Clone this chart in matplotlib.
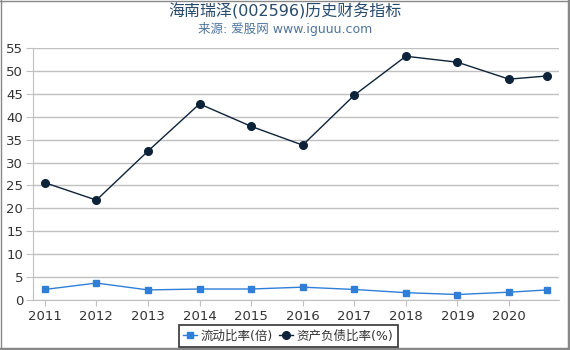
import matplotlib
matplotlib.use("Agg")
import matplotlib.pyplot as plt
from matplotlib.lines import Line2D

plt.rcParams['font.family'] = ['DejaVu Sans', 'Noto Sans CJK SC']

# data
years = [2011, 2012, 2013, 2014, 2015, 2016, 2017, 2018, 2019, 2020, 2020.74]
current_ratio = [2.3, 3.7, 2.2, 2.4, 2.4, 2.8, 2.3, 1.6, 1.2, 1.7, 2.2]
debt_ratio = [25.6, 21.8, 32.5, 42.8, 37.9, 33.8, 44.7, 53.2, 51.9, 48.2, 48.9]
tick_years = [2011, 2012, 2013, 2014, 2015, 2016, 2017, 2018, 2019, 2020]

W, H = 570, 350
fig = plt.figure(figsize=(W / 100, H / 100), dpi=100)
ax = fig.add_axes([33 / W, 50 / H, 526 / W, 252 / H])

ax.plot(years, current_ratio, color="#2f7ed8", lw=1, marker="s", ms=5,
        label="流动比率(倍)", zorder=3)
ax.plot(years, debt_ratio, color="#0d233a", lw=1, marker="o", ms=5.5,
        label="资产负债比率(%)", zorder=3)

ax.set_xlim(2010.77, 2020.97)
ax.set_ylim(0, 55)
ax.set_yticks(range(0, 56, 5))
ax.set_xticks(tick_years)
ax.grid(axis="y", color="#c0c0c0", lw=1)
ax.set_axisbelow(True)
for s in ["top", "right"]:
    ax.spines[s].set_visible(False)
ax.spines["left"].set_color("#c0c0c0")
ax.spines["bottom"].set_color("#c0c0c0")
ax.tick_params(axis="both", colors="#c0c0c0", labelcolor="#333333", labelsize=9.5, length=4)
ax.tick_params(axis="y", length=5, pad=2)

fig.text(0.5, 0.967, "海南瑞泽(002596)历史财务指标", ha="center", va="center",
         fontsize=11.5, color="#274b6d")
fig.text(0.5, 0.918, "来源: 爱股网 www.iguuu.com", ha="center", va="center",
         fontsize=9, color="#4d759e")

leg = fig.legend(loc="center", bbox_to_anchor=(288 / W, 1 - 336 / H), ncol=2,
                 fontsize=9, frameon=True, fancybox=False, handlelength=1.1,
                 handletextpad=0.3, columnspacing=0.5, borderpad=0.35,
                 borderaxespad=0)
leg.get_frame().set_edgecolor("black")
leg.get_frame().set_linewidth(1.2)
for t in leg.get_texts():
    t.set_color("#333333")

# outer frame: thin top/left, heavier right/bottom
gray = "#888888"
fig.add_artist(Line2D([0, 1], [1 - 0.5 / H, 1 - 0.5 / H], transform=fig.transFigure, color=gray, lw=1))
fig.add_artist(Line2D([0.5 / W, 0.5 / W], [0, 1], transform=fig.transFigure, color=gray, lw=1))
fig.add_artist(Line2D([1 - 1.5 / W, 1 - 1.5 / W], [0, 1], transform=fig.transFigure, color=gray, lw=2.5))
fig.add_artist(Line2D([0, 1], [1.5 / H, 1.5 / H], transform=fig.transFigure, color=gray, lw=2.5))

fig.savefig("out.png", dpi=100)
